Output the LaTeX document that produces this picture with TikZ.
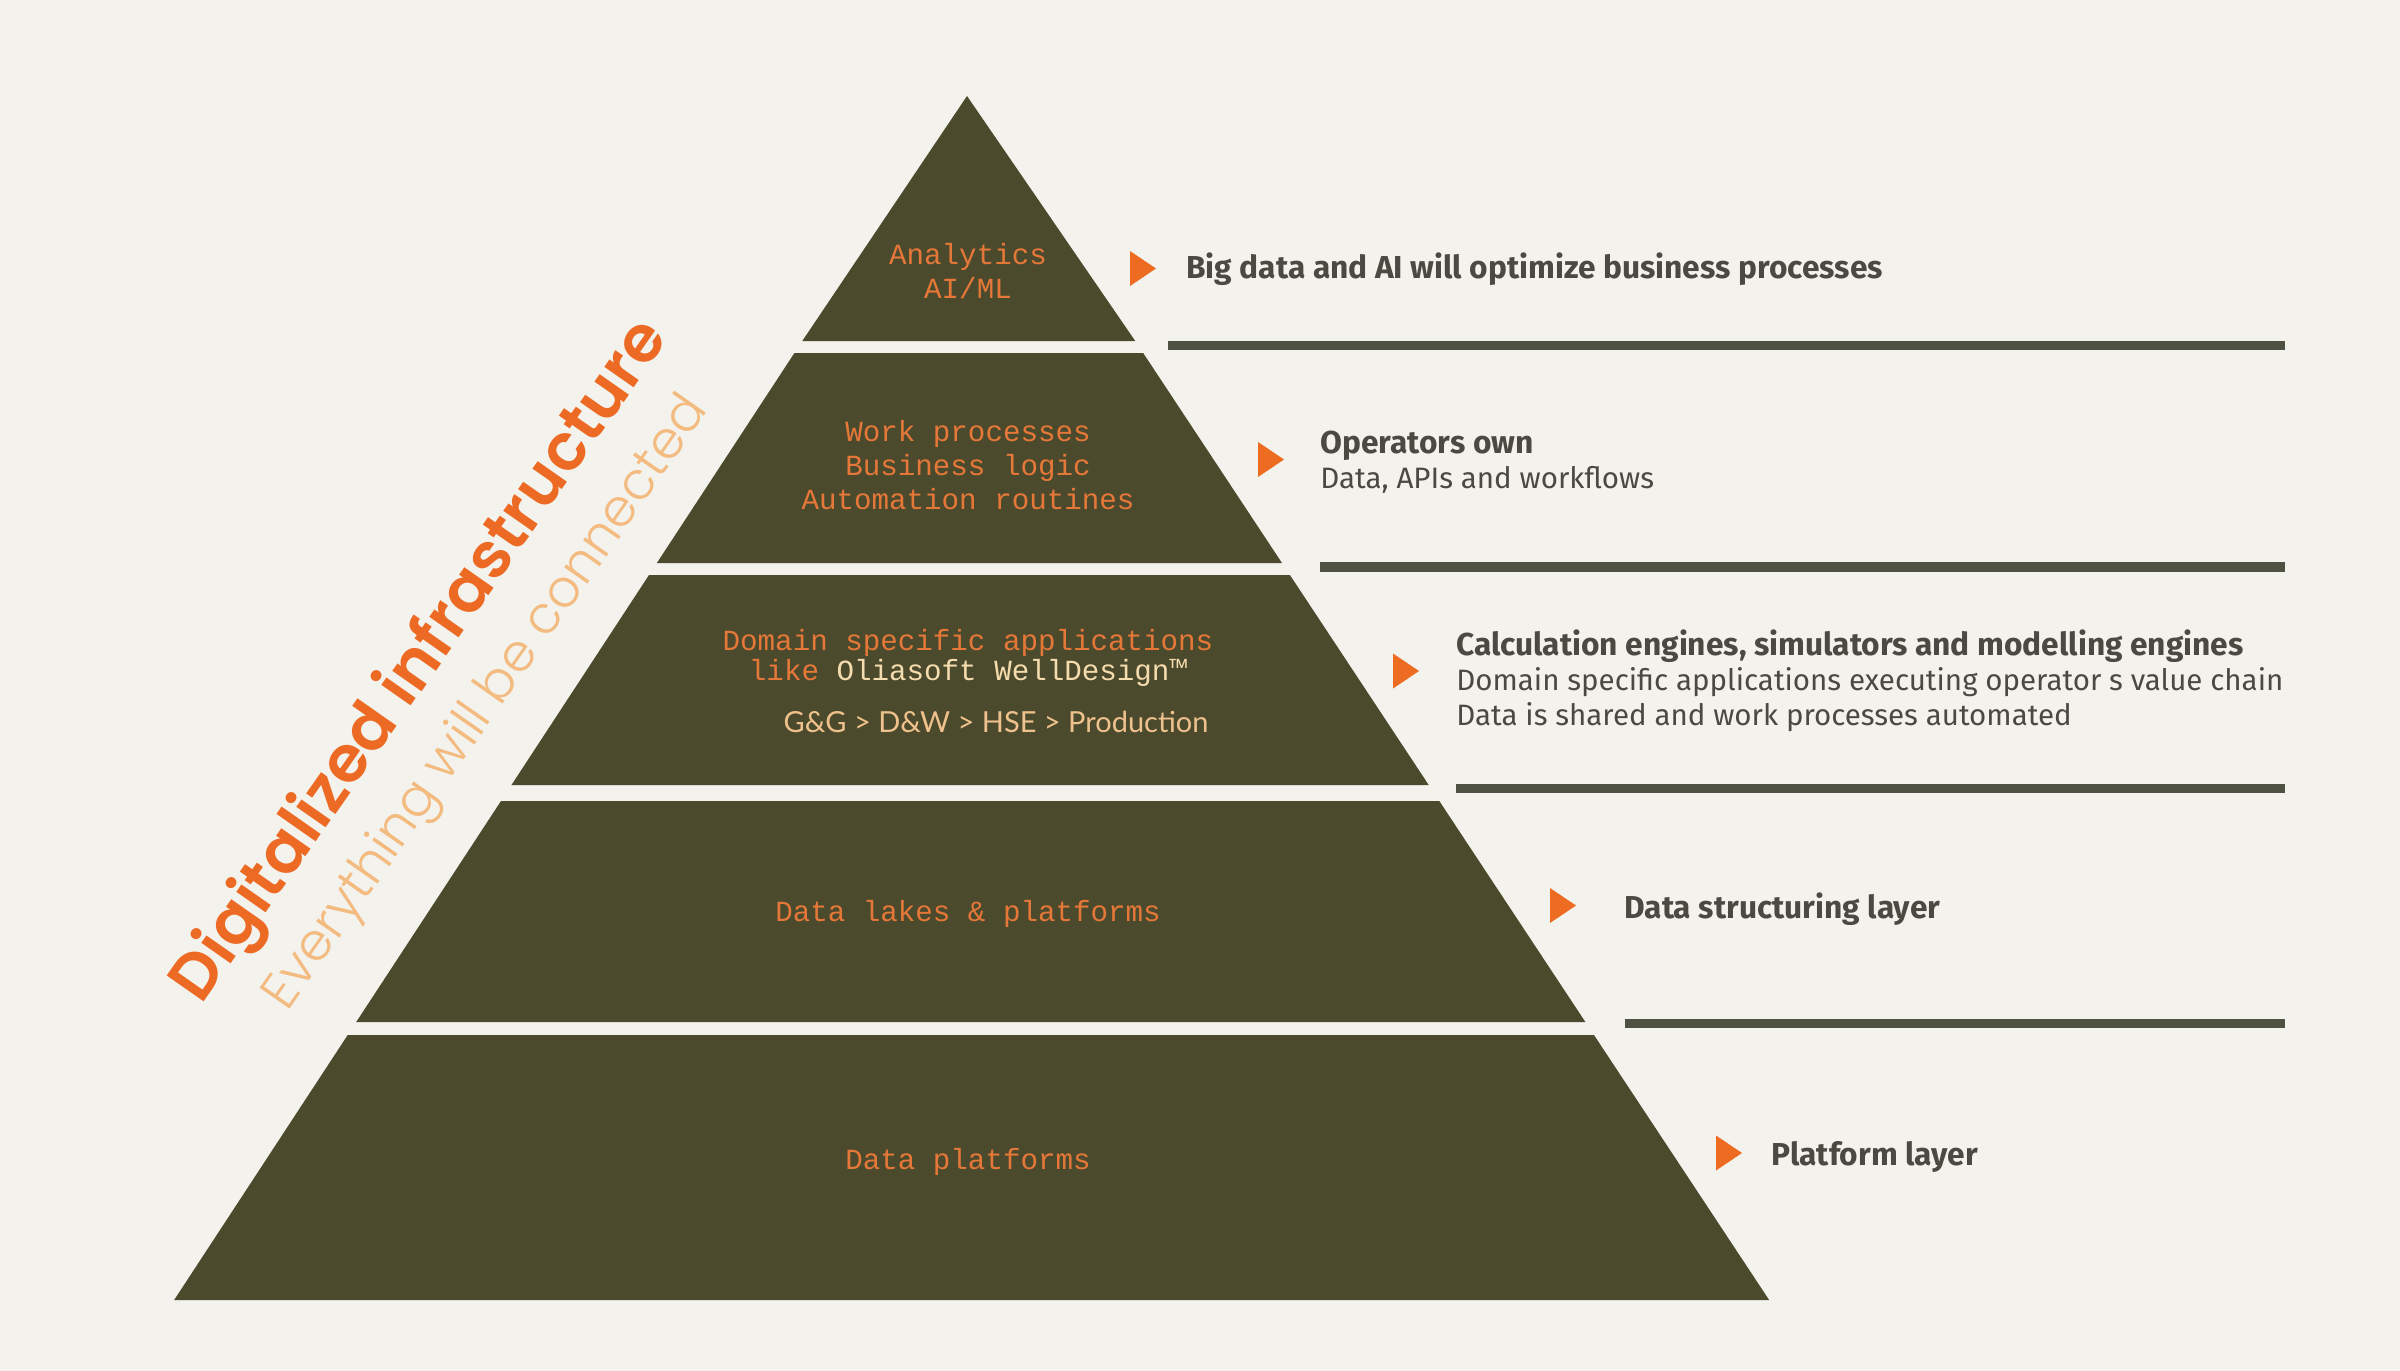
\documentclass[tikz,border=0pt]{standalone}
\usepackage{fontspec}
\setmainfont{Fira Sans}
\newfontfamily\chainf{Lato}
\newfontfamily\monof{Liberation Mono}
\newfontfamily\titlef{Poppins SemiBold}
\newfontfamily\subf{Poppins Light}
\definecolor{bg}{HTML}{F3F2EC}
\definecolor{pyr}{HTML}{4C4A2D}
\definecolor{barc}{HTML}{4F5143}
\definecolor{arrowor}{HTML}{EE6B22}
\definecolor{titleor}{HTML}{EC6A24}
\definecolor{peach}{HTML}{F3BB80}
\definecolor{monoor}{HTML}{E57838}
\definecolor{cream}{HTML}{F5DCAE}
\definecolor{chainc}{HTML}{EFC18C}
\definecolor{txtgray}{HTML}{4A4A42}
\newcommand{\pyrlayer}[2]{\fill[pyr] ({968-0.655*(#1-88)},#1) -- ({968+0.661*(#1-88)},#1) -- ({968+0.661*(#2-88)},#2) -- ({968-0.655*(#2-88)},#2) -- cycle;}
\newcommand{\marker}[2]{\fill[arrowor] (#1,{#2-17.5}) -- ({#1+26},#2) -- (#1,{#2+17.5}) -- cycle;}
\begin{document}
\begin{tikzpicture}[x=0.5pt,y=-0.5pt,
  mono/.style={font=\monof\fontsize{14.6}{17}\selectfont, text=monoor, inner sep=0pt, anchor=base},
  chain/.style={font=\chainf\fontsize{14.5}{17}\selectfont, text=chainc, inner sep=0pt, anchor=base},
  lab/.style={font=\fontsize{14.75}{17}\selectfont, text=txtgray, anchor=base west, inner sep=0pt},
  labb/.style={lab, font=\bfseries\fontsize{15.85}{18}\selectfont}]
\fill[bg] (0,0) rectangle (2400,1371);
% pyramid layers
\fill[pyr] (967,96) -- ({968+0.661*(341-88)},341) -- ({968-0.655*(341-88)},341) -- cycle;
\pyrlayer{353}{563}
\pyrlayer{575}{785}
\pyrlayer{801}{1022}
\pyrlayer{1035}{1300}
% separator bars
\fill[barc] (1168,341) rectangle (2285,350);
\fill[barc] (1320,562) rectangle (2285,572);
\fill[barc] (1456,784) rectangle (2285,793);
\fill[barc] (1625,1019) rectangle (2285,1028);
% markers
\marker{1130}{268.5}
\marker{1258}{459.5}
\marker{1393}{671}
\marker{1550}{905.5}
\marker{1716}{1153}
% pyramid texts
\node[mono] (an1) at (968,264) {Analytics};
\node[mono] (an2) at (968,298) {AI/ML};
\node[mono] (wp1) at (968,441) {Work processes};
\node[mono] (wp2) at (968,475) {Business logic};
\node[mono] (wp3) at (968,509) {Automation routines};
\node[mono] (ds1) at (968,650) {Domain specific applications};
\node[mono] (ds2) at (968,680) {like \textcolor{cream}{Oliasoft WellDesign™}};
\node[chain] (ds3) at (996,732) {G\&G > D\&W > HSE > Production};
\node[mono] (dl) at (968,921) {Data lakes \& platforms};
\node[mono] (dp) at (968,1169) {Data platforms};
% right texts
\node[labb] (r1) at (1186,278) {Big data and AI will optimize business processes};
\node[labb] (r2a) at (1320,453) {Operators own};
\node[lab] (r2b) at (1320,488) {Data, APIs and workflows};
\node[labb] (r3a) at (1456,655) {Calculation engines, simulators and modelling engines};
\node[lab] (r3b) at (1456,690) {Domain specific applications executing operator s value chain};
\node[lab] (r3c) at (1456,725) {Data is shared and work processes automated};
\node[labb] (r4) at (1624,918) {Data structuring layer};
\node[labb] (r5) at (1771,1165) {Platform layer};
% title
\node[rotate=55, font=\titlef\fontsize{32.3}{36}\selectfont, text=titleor, inner sep=0pt] (title) at (422,662) {Digitalized infrastructure};
\node[rotate=55, font=\subf\fontsize{26}{30}\selectfont, text=peach, inner sep=0pt] (sub) at (488,704) {Everything will be connected};
\end{tikzpicture}
\end{document}
